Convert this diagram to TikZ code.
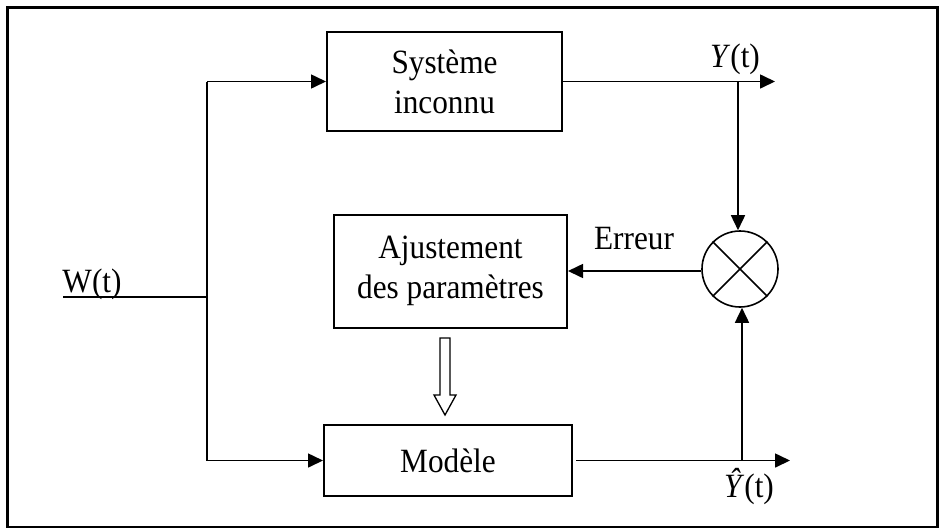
\documentclass[tikz,border=0pt]{standalone}
\usepackage{fontspec}
\setmainfont{Liberation Serif}[FakeStretch=0.92]
\usetikzlibrary{arrows.meta,calc}
\begin{document}
\begin{tikzpicture}[x=1pt,y=-1pt,line width=1.6pt,
  font=\fontsize{34}{40}\selectfont,
  box/.style={draw,line width=2pt,inner sep=0pt,align=center},
  arr/.style={-{Triangle[length=15pt,width=14pt]}},
  lbl/.style={anchor=base,inner sep=0pt}]
\useasboundingbox (0,0) rectangle (941,531);
\draw[line width=2.5pt] (7.5,7.5) rectangle (937.5,527);
% blocks
\node[box,minimum width=235pt,minimum height=99pt] (sys) at (444.5,81.5) {Système\\inconnu};
\node[box,minimum width=233pt,minimum height=113pt] (adj) at (450.5,271) {Ajustement\\des paramètres};
\node[box,minimum width=248pt,minimum height=71pt] (mod) at (448,460.5) {Modèle};
\node[circle,draw,minimum size=76pt,inner sep=0pt] (sum) at (740,269) {};
\draw (sum.north west) -- (sum.south east);
\draw (sum.north east) -- (sum.south west);
% input
\coordinate (win) at (63,297);
\coordinate (split) at (207,297);
\draw (win) -- (split);
\draw (split |- sys.west) -- (split |- mod.west);
\draw[arr] (split |- sys.west) -- (sys.west);
\draw[arr] (split |- mod.west) -- (mod.west);
% outputs
\coordinate (yout) at (775,81.5);
\coordinate (yhout) at (790,460.5);
\draw[arr] (sys.east) -- (yout);
\draw[arr] ([xshift=3pt]mod.east) -- (yhout);
\draw[arr] ([xshift=-2pt]sum.north |- sys.east) -- ([xshift=-2pt]sum.north);
\draw[arr] ([xshift=2pt]sum.south |- mod.east) -- ([xshift=2pt]sum.south);
\draw[arr] (sum.west |- adj.east) -- (adj.east);
% hollow arrow
\draw[line width=1.3pt,fill=white] (440,338) -- (450,338) -- (450,395) -- (456,395) -- (445,415) -- (434,395) -- (440,395) -- cycle;
% labels
\node[lbl] (ylab) at (735,67) {\textit{Y}(t)};
\node[lbl] (yhlab) at (749,497) {\textit{Ŷ}(t)};
\node[lbl] (wlab) at (92,292) {W(t)};
\node[lbl] (err) at (634,249) {Erreur};
\end{tikzpicture}
\end{document}
